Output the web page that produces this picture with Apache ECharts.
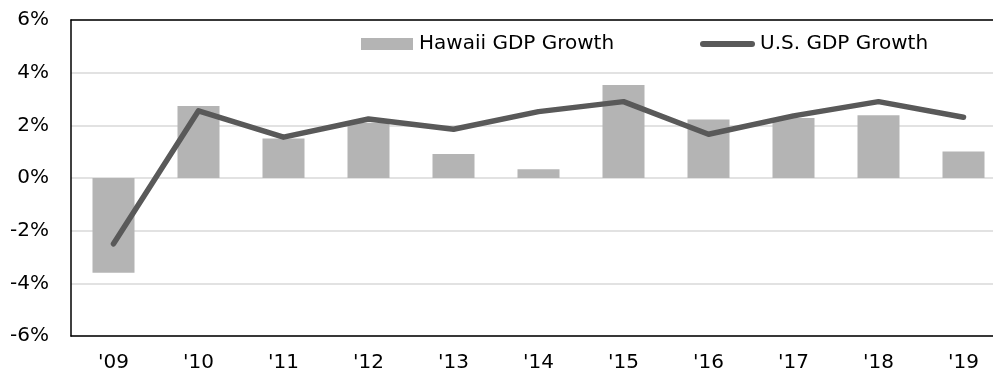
<!DOCTYPE html>
<html>
<head>
<meta charset="utf-8">
<script src="https://cdn.jsdelivr.net/npm/echarts@6/dist/echarts.min.js"></script>
<style>
  html, body { margin: 0; padding: 0; background: #ffffff; overflow: hidden; }
  #chart { width: 1010px; height: 375px; }
</style>
</head>
<body>
<div id="chart"></div>
<script>
// Annual real GDP growth, Hawaii vs. United States (percent)
const years = ["'09", "'10", "'11", "'12", "'13", "'14", "'15", "'16", "'17", "'18", "'19"];
const hawaiiGrowth = [-3.6, 2.73, 1.5, 2.1, 0.91, 0.33, 3.53, 2.22, 2.28, 2.38, 1.01];
const usGrowth = [-2.5, 2.55, 1.55, 2.24, 1.85, 2.52, 2.9, 1.66, 2.36, 2.9, 2.31];
const yTicks = [-6, -4, -2, 0, 2, 4, 6];

const FONT = 'DejaVu Sans, Liberation Sans, sans-serif';
const FS = 20;
const chart = echarts.init(document.getElementById('chart'), null, { renderer: 'canvas' });

// The plot runs slightly past the right edge of the window, so the
// container is a bit wider than the page and the overflow is hidden.
chart.setOption({
  animation: false,
  backgroundColor: '#ffffff',
  textStyle: { fontFamily: FONT },
  grid: {
    left: 71, top: 20, width: 935, bottom: 39,
    show: false
  },
  legend: [
    {
      data: ['Hawaii GDP Growth'],
      left: 361, top: 34, padding: 0,
      itemWidth: 52, itemHeight: 12, itemGap: 0,
      textStyle: { fontFamily: FONT, fontSize: FS, color: '#000000', padding: [0, 0, 0, 1] },
      icon: 'rect'
    },
    {
      data: ['U.S. GDP Growth'],
      left: 700, top: 34, padding: 0,
      itemWidth: 55, itemHeight: 6, itemGap: 0,
      textStyle: { fontFamily: FONT, fontSize: FS, color: '#000000', padding: [0, 0, 0, 0] },
      icon: 'path://M3,0 L52,0 A3,3 0 0 1 52,6 L3,6 A3,3 0 0 1 3,0 Z'
    }
  ],
  xAxis: [
    {
      type: 'category',
      data: years,
      position: 'bottom',
      axisLine: { show: true, onZero: false, lineStyle: { color: '#000000', width: 1.5 } },
      axisTick: { show: false },
      axisLabel: { color: '#000000', fontFamily: FONT, fontSize: FS, margin: 17 },
      splitLine: { show: false },
      z: 5
    },
    {
      // top frame line of the plot
      type: 'category',
      data: years,
      position: 'top',
      axisLine: { show: true, onZero: false, lineStyle: { color: '#000000', width: 1.5 } },
      axisTick: { show: false },
      axisLabel: { show: false },
      splitLine: { show: false },
      z: 5
    }
  ],
  yAxis: {
    type: 'value',
    min: yTicks[0], max: yTicks[yTicks.length - 1], interval: 2,
    axisLine: { show: true, lineStyle: { color: '#000000', width: 1.5 } },
    axisTick: { show: false },
    axisLabel: {
      color: '#000000', fontFamily: FONT, fontSize: FS, margin: 22,
      formatter: v => v + '%'
    },
    splitLine: { show: true, lineStyle: { color: '#d9d9d9', width: 1.5 } }
  },
  series: [
    {
      name: 'Hawaii GDP Growth',
      type: 'bar',
      data: hawaiiGrowth,
      barWidth: 42,
      itemStyle: { color: '#b4b4b4' },
      z: 2
    },
    {
      name: 'U.S. GDP Growth',
      type: 'line',
      data: usGrowth,
      symbol: 'none',
      lineStyle: { color: '#595959', width: 5.5, cap: 'round', join: 'round' },
      itemStyle: { color: '#595959' },
      z: 3
    }
  ]
});
</script>
</body>
</html>
